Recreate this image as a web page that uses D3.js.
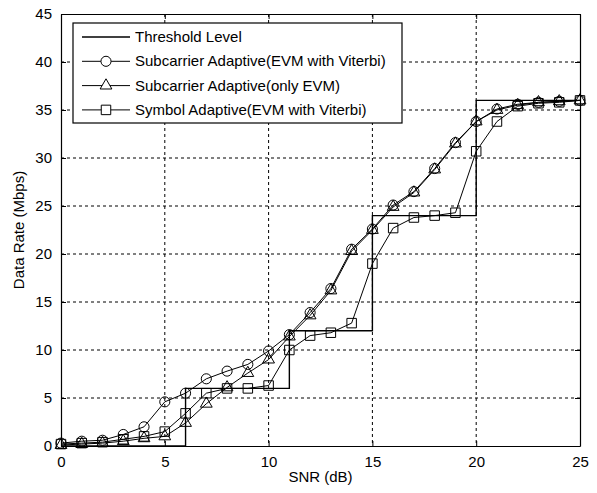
<!doctype html>
<html lang="en">
<head>
	<meta charset="utf-8">
	<title>Data Rate vs SNR</title>
	<script src="https://cdn.jsdelivr.net/npm/d3@7"></script>
	<style>
		body { margin: 0; background: #fff; }
		text { font-family: Arial, "Liberation Sans", sans-serif; fill: #000; }
		.grid line { stroke: #000; stroke-dasharray: 3,3; stroke-width: 1; }
	</style>
</head>
<body>
	<svg id="chart" width="597" height="493"></svg>
	<script>
		// data
		var snr = d3.range(0, 26);
		var evmViterbi = [0.3,0.5,0.6,1.2,2.0,4.6,5.5,7.0,7.8,8.5,9.9,11.6,13.9,16.4,20.5,22.6,25.1,26.5,28.9,31.6,33.8,35.1,35.6,35.8,35.9,36.0];
		var onlyEvm = [0.1,0.2,0.3,0.5,0.8,1.0,2.4,4.4,6.1,7.6,9.0,11.4,13.6,16.2,20.3,22.5,24.9,26.4,28.8,31.5,33.8,35.0,35.5,35.8,35.9,36.0];
		var symbolAdaptive = [0.2,0.3,0.4,0.7,1.0,1.5,3.4,5.5,6.0,6.0,6.3,10.0,11.5,11.8,12.8,19.0,22.7,23.8,24.0,24.3,30.7,33.8,35.4,35.7,35.8,36.0];
		var thresholdSnr = [0, 6, 11, 15, 20, 25];
		var thresholdRate = [0, 6, 12, 24, 36, 36];
		var xTicks = [0, 5, 10, 15, 20, 25];
		var yTicks = [0, 5, 10, 15, 20, 25, 30, 35, 40, 45];
		var legendLabels = ["Threshold Level", "Subcarrier Adaptive(EVM with Viterbi)", "Subcarrier Adaptive(only EVM)", "Symbol Adaptive(EVM with Viterbi)"];

		var svg = d3.select("#chart");
		var pLeft = 61, pRight = 580, pTop = 14, pBottom = 446;
		var xScale = d3.scaleLinear().domain([0, 25]).range([pLeft, pRight]);
		var yScale = d3.scaleLinear().domain([0, 45]).range([pBottom, pTop]);

		// grid
		var grid = svg.append("g").attr("class", "grid");
		grid.selectAll(".gx").data(xTicks.slice(1, -1)).enter().append("line")
			.attr("x1", function(d) { return xScale(d); }).attr("x2", function(d) { return xScale(d); })
			.attr("y1", pTop).attr("y2", pBottom);
		grid.selectAll(".gy").data(yTicks.slice(1, -1)).enter().append("line")
			.attr("y1", function(d) { return yScale(d); }).attr("y2", function(d) { return yScale(d); })
			.attr("x1", pLeft).attr("x2", pRight);

		// axes, matlab style ticks pointing inwards
		var xAxis = d3.axisBottom(xScale).tickValues(xTicks).tickSizeInner(-5).tickSizeOuter(0).tickPadding(10);
		svg.append("g").attr("transform", "translate(0," + pBottom + ")").call(xAxis);
		var yAxis = d3.axisLeft(yScale).tickValues(yTicks).tickSizeInner(-5).tickSizeOuter(0).tickPadding(9);
		svg.append("g").attr("transform", "translate(" + pLeft + ",0)").call(yAxis);
		svg.append("g").attr("transform", "translate(0," + pTop + ")")
			.call(d3.axisTop(xScale).tickValues(xTicks).tickSizeInner(-5).tickSizeOuter(0).tickFormat(""));
		svg.append("g").attr("transform", "translate(" + pRight + ",0)")
			.call(d3.axisRight(yScale).tickValues(yTicks).tickSizeInner(-5).tickSizeOuter(0).tickFormat(""));
		svg.selectAll(".domain").attr("stroke", "#000").attr("stroke-width", 1.2);
		svg.selectAll(".tick line").attr("stroke", "#000");
		svg.selectAll(".tick text").style("font-size", "15px").style("font-family", "Arial, 'Liberation Sans', sans-serif").attr("fill", "#000");

		svg.append("text").attr("x", (pLeft + pRight) / 2).attr("y", 482).attr("text-anchor", "middle")
			.style("font-size", "15px").text("SNR (dB)");
		svg.append("text").attr("transform", "translate(24," + ((pTop + pBottom) / 2) + ") rotate(-90)")
			.attr("text-anchor", "middle").style("font-size", "15px").text("Data Rate (Mbps)");

		// threshold step line
		var stepLine = d3.line()
			.x(function(d, i) { return xScale(thresholdSnr[i]); })
			.y(function(d) { return yScale(d); })
			.curve(d3.curveStepAfter);
		svg.append("path").attr("d", stepLine(thresholdRate))
			.attr("fill", "none").attr("stroke", "#000").attr("stroke-width", 1.4);

		var series = [
			{ values: evmViterbi, shape: d3.symbolCircle, size: 80 },
			{ values: onlyEvm, shape: d3.symbolTriangle, size: 60 },
			{ values: symbolAdaptive, shape: d3.symbolSquare, size: 90 }
		];
		var line = d3.line()
			.x(function(d, i) { return xScale(snr[i]); })
			.y(function(d) { return yScale(d); });

		series.forEach(function(s) {
			svg.append("path").attr("d", line(s.values))
				.attr("fill", "none").attr("stroke", "#000").attr("stroke-width", 1);
			svg.append("g").selectAll("path").data(s.values).enter().append("path")
				.attr("transform", function(d, i) { return "translate(" + xScale(snr[i]) + "," + yScale(d) + ")"; })
				.attr("d", d3.symbol().type(s.shape).size(s.size))
				.attr("fill", "none").attr("stroke", "#000").attr("stroke-width", 1);
		});

		// legend
		var legend = svg.append("g");
		legend.append("rect").attr("x", 73).attr("y", 23).attr("width", 329).attr("height", 100)
			.attr("fill", "#fff").attr("stroke", "#000").attr("stroke-width", 1.2);
		var shapes = [null, d3.symbolCircle, d3.symbolTriangle, d3.symbolSquare];
		var sizes = [0, 80, 60, 90];
		legendLabels.forEach(function(label, i) {
			var y = 37 + i * 24.3;
			legend.append("line").attr("x1", 82).attr("x2", 130).attr("y1", y).attr("y2", y)
				.attr("stroke", "#000").attr("stroke-width", i == 0 ? 1.4 : 1);
			if (shapes[i]) {
				legend.append("path").attr("transform", "translate(106," + y + ")")
					.attr("d", d3.symbol().type(shapes[i]).size(sizes[i]))
					.attr("fill", "#fff").attr("stroke", "#000");
			}
			legend.append("text").attr("x", 135).attr("y", y + 5).style("font-size", "15px").text(label);
		});
	</script>
</body>
</html>
